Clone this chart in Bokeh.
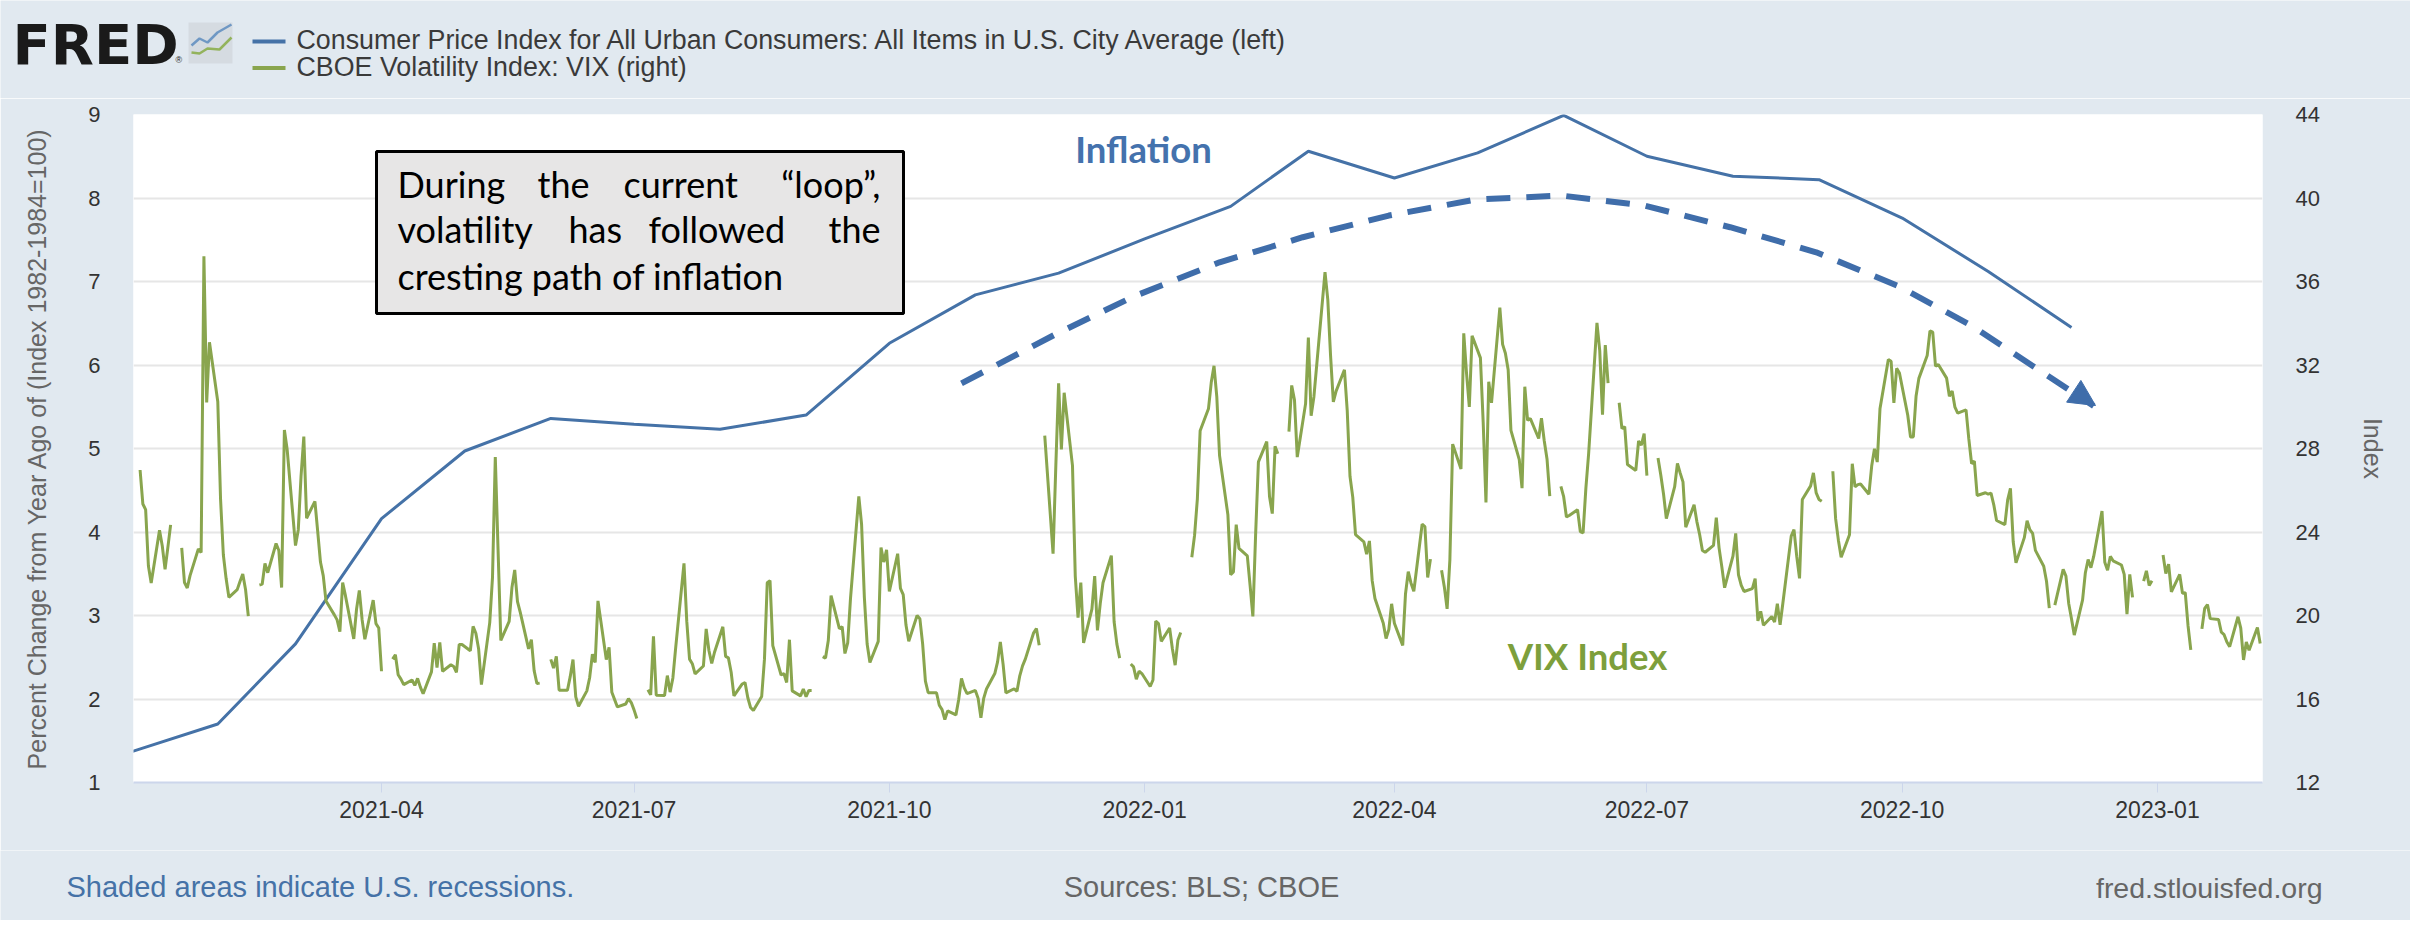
import numpy as np
import pandas as pd
from bokeh.embed import file_html
from bokeh.models import (Arrow, BoxAnnotation, DatetimeTickFormatter, FixedTicker,
                          Label, LinearAxis, NormalHead, Range1d)
from bokeh.plotting import figure
from bokeh.resources import INLINE

# ---- data ----
cpi_dates = pd.date_range("2021-01-01", "2022-12-01", freq="MS")
cpi_yoy = [1.37, 1.70, 2.66, 4.16, 4.97, 5.36, 5.29, 5.23, 5.40, 6.26, 6.84, 7.10,
           7.51, 7.90, 8.56, 8.24, 8.54, 8.99, 8.50, 8.26, 8.22, 7.76, 7.12, 6.45]

# VIX daily closes, one row per month, None = market holiday (line breaks there)
vix_2021 = [
    [None, 26.97, 25.34, 25.07, 22.37, 21.56, 24.08, 23.33, 22.21, 23.25, 24.34, None, 23.24, 21.58, 21.32, 21.91, 23.19, 23.02, 37.21, 30.21, 33.09],
    [30.24, 25.56, 22.91, 21.77, 20.87, 21.24, 21.63, 21.99, 21.25, 19.97, None, 21.46, 21.50, 22.49, 22.05, 23.45, 23.11, 21.34, 28.89, 27.95],
    [23.35, 24.10, 26.67, 28.57, 24.66, 25.47, 24.03, 22.56, 21.91, 20.69, 20.03, 19.79, 19.23, 21.58, 20.95, 18.88, 20.30, 21.20, 19.81, 18.86, 20.74, 19.61, 19.40],
    [17.33, None, 17.91, 18.12, 17.16, 16.95, 16.69, 16.91, 16.65, 16.99, 16.57, 16.25, 17.30, 18.68, 17.50, 18.71, 17.33, 17.64, 17.56, 17.28, 18.61, 18.61],
    [18.31, 19.48, 19.15, 18.39, 16.69, 19.66, 21.84, 27.59, 23.13, 18.81, 19.72, 21.34, 22.18, 20.67, 20.15, 18.40, 18.84, 17.36, 16.74, 16.76, None],
    [17.90, 17.48, 18.04, 16.42, 16.42, 17.07, 17.89, 16.10, 15.65, 16.39, 17.02, 18.15, 17.75, 20.70, 17.89, 18.48, 16.32, 15.97, 15.62, 15.76, 16.02, 15.83],
    [15.48, 15.07, None, 16.44, 16.20, 19.00, 16.18, 16.17, 17.12, 16.33, 17.01, 18.45, 22.50, 19.73, 17.91, 17.69, 17.20, 17.58, 19.36, 18.31, 17.70, 18.24],
    [19.46, 18.04, 17.97, 17.28, 16.15, 16.72, 16.79, 16.06, 15.59, 15.45, 16.12, 17.91, 21.57, 21.67, 18.56, 17.15, 17.22, 16.79, 18.84, 16.39, 16.15, 16.48],
    [16.11, 16.41, 16.41, None, 18.03, 17.96, 18.80, 20.95, 19.37, 19.46, 18.18, 18.69, 20.81, 25.71, 24.36, 20.87, 18.63, 17.75, 18.76, 23.25, 22.56, 23.14],
    [21.15, 22.96, 21.30, 21.00, 19.54, 18.77, 20.00, 19.85, 18.64, 16.86, 16.30, 16.30, 15.70, 15.49, 15.01, 15.43, 15.24, 15.98, 16.98, 16.53, 16.26],
    [16.41, 16.03, 15.10, 16.03, 16.48, 17.22, 17.78, 18.73, 17.66, 16.29, 16.49, 16.37, 17.11, 17.59, 17.91, 19.17, 19.38, 18.58, None, 28.62, 22.96, 27.19],
    [31.12, 27.95, 30.67, 27.18, 21.89, 19.90, 21.58, 18.69, 20.31, 21.89, 19.29, 20.57, 21.57, 22.87, 19.70, 18.63, 17.96, None, 17.68, 17.54, 16.95, 17.33, 17.22],
]
vix_2022 = [
    [16.60, 16.91, 19.73, 19.61, 18.76, 19.40, 18.41, 17.62, 18.83, 19.19, None, 22.79, 23.85, 25.59, 28.85, 29.90, 31.16, 31.96, 30.49, 27.66, 24.83],
    [21.96, 22.09, 24.35, 23.22, 22.86, 21.44, 19.96, 23.91, 27.36, 28.33, 25.70, 24.88, 28.11, 27.75, None, 28.81, 31.02, 30.32, 27.59, 30.15],
    [33.32, 29.57, 30.48, 31.98, 36.45, 35.13, 32.45, 30.23, 30.75, 31.77, 29.83, 26.67, 25.67, 23.87, 23.53, 22.94, 23.57, 21.67, 20.81, 19.63, 18.90, 19.33, 20.56],
    [19.63, 18.57, 21.03, 22.10, 21.55, 21.16, 24.37, 24.26, 21.82, 22.70, None, 22.17, 21.37, 20.32, 22.68, 28.21, 27.02, 33.52, 31.60, 29.99, 33.40],
    [32.34, 29.25, 25.42, 31.20, 30.19, 34.75, 32.99, 32.56, 31.77, 28.87, 27.47, 26.10, 30.96, 29.35, 29.43, 28.48, 29.45, 28.37, 27.50, 25.72, None, 26.19],
    [25.69, 24.72, 24.79, 25.07, 24.02, 23.96, 26.09, 27.75, 34.02, 32.69, 29.62, 32.95, 31.13, None, 30.19, 28.95, 29.05, 27.23, 26.95, 28.36, 28.16, 28.71],
    [26.70, None, 27.54, 26.73, 25.81, 24.64, 26.17, 27.29, 26.82, 26.40, 24.23, 25.30, 24.50, 23.88, 23.11, 23.03, 23.36, 24.69, 23.24, 22.33, 21.33],
    [22.84, 23.93, 21.95, 21.44, 21.15, 21.29, 21.77, 19.74, 20.20, 19.53, 19.95, 19.69, 20.56, 19.56, 20.60, 23.80, 24.11, 22.82, 21.78, 25.56, 26.21, 26.83, 25.87],
    [25.56, 25.47, None, 26.91, 24.64, 23.61, 22.79, 23.87, 27.27, 26.16, 26.27, 26.30, 25.81, 27.16, 27.99, 27.35, 29.92, 32.26, 32.18, 30.18, 31.84, 31.62],
    [29.59, 28.55, 28.55, 30.52, 31.36, 32.45, 33.63, 33.57, 31.94, 32.02, 31.37, 30.50, 30.76, 29.98, 29.69, 29.85, 28.46, 27.28, 27.39, 25.75, 25.88],
    [25.81, 25.86, 25.30, 24.55, 24.35, 25.54, 26.09, 23.53, 22.52, 23.73, 24.54, 24.11, 23.93, 23.12, 22.36, 21.64, 20.35, None, 20.50, 22.21, 21.89, 20.58],
    [19.84, 19.06, 20.75, 22.05, 22.68, 22.29, 22.83, 25.00, 22.55, 22.17, 22.83, 22.62, 22.42, 21.97, 20.07, 21.97, 20.87, None, 21.65, 22.14, 21.44, 21.67],
]
vix_2023 = [
    [None, 22.90, 22.01, 22.46, 21.13, 21.97, 21.07, 21.09, 19.51, 18.35, None, 19.36, 20.34, 20.52, 19.85, 19.81, 19.20, 19.08, 18.73, 18.51, 19.94, 19.40],
    [17.87, 18.73, 18.33, 19.43, 18.66],
]

# the hand-drawn dashed "crest" arrow, in left-axis units
arc_dates = ["2021-10-27", "2021-11-30", "2021-12-28", "2022-01-28", "2022-02-27", "2022-03-30",
             "2022-04-30", "2022-05-31", "2022-06-30", "2022-07-31", "2022-08-31", "2022-09-30",
             "2022-10-26", "2022-11-22", "2022-12-09"]
arc_levels = [5.78, 6.37, 6.82, 7.23, 7.53, 7.79, 7.98, 8.03, 7.91, 7.65, 7.35, 6.94, 6.47, 5.88, 5.51]

tick_dates = ["2021-04-01", "2021-07-01", "2021-10-01", "2022-01-01",
              "2022-04-01", "2022-07-01", "2022-10-01", "2023-01-01"]
left_ticks = [1, 2, 3, 4, 5, 6, 7, 8, 9]
right_ticks = [12, 16, 20, 24, 28, 32, 36, 40, 44]

legend_labels = ["Consumer Price Index for All Urban Consumers: All Items in U.S. City Average (left)",
                 "CBOE Volatility Index: VIX (right)"]


def ms(s):
    return pd.Timestamp(s).value / 1e6


vix_dates, vix_values = [], []
for year, months in ((2021, vix_2021), (2022, vix_2022), (2023, vix_2023)):
    for m, vals in enumerate(months):
        vix_dates.extend(pd.bdate_range(f"{year}-{m + 1:02d}-01", periods=len(vals)))
        vix_values.extend(np.nan if v is None else v for v in vals)

X0, X1 = ms("2021-01-01 15:00"), ms("2023-02-07 20:00")
FL, FR, FT, FB = 133, 2262, 114, 782   # frame edges on the screenshot
HDR_BOTTOM, FTR_TOP, BOTTOM = 98, 850, 920
W = 2410


def at_x(px):
    return X0 + (px - FL) * (X1 - X0) / (FR - FL)


def at_y(py):
    return 9 - (py - FT) * 8 / (FB - FT)


def same(v):
    return v


BG = "#e1e9f0"
BLUE = "#4572a7"
GREEN = "#89a54e"

# distance from the middle of the text box down to the baseline, per em
MID_TO_BASE = {"Lato": 0.37, "Liberation Sans": 0.346, "DejaVu Sans": 0.346}


def label(fig, text, px, py, size, color, font="Liberation Sans", align="left",
          style="normal", fx=same, fy=same):
    # px/py: anchor and baseline on the screenshot; Bokeh gets the middle of the line
    mid = py - MID_TO_BASE[font] * size
    fig.add_layout(Label(x=fx(px), y=fy(mid), text=text, text_font=font,
                         text_font_size=f"{size}px", text_color=color, text_align=align,
                         text_font_style=style, text_baseline="middle"))


def strip(top, bottom):
    # plain panel whose data units are screenshot pixels (y pointing down)
    f = figure(width=W, height=bottom - top, x_range=Range1d(0, W), y_range=Range1d(bottom, top),
               x_axis_location=None, y_axis_location=None, output_backend="svg",
               toolbar_location=None, min_border=0, background_fill_color=BG,
               border_fill_color=BG, outline_line_color=None)
    f.grid.visible = False
    return f


# ---------- main chart ----------
p = figure(width=W, height=FTR_TOP - HDR_BOTTOM, x_axis_type="datetime",
           x_range=Range1d(X0, X1), y_range=Range1d(1, 9),
           output_backend="svg", toolbar_location=None,
           min_border_left=FL, min_border_right=W - FR,
           min_border_top=FT - HDR_BOTTOM, min_border_bottom=FTR_TOP - FB,
           background_fill_color="white", border_fill_color=BG, outline_line_color=None)
p.extra_y_ranges = {"vix": Range1d(12, 44)}

xa = p.xaxis[0]
xa.ticker = FixedTicker(ticks=[ms(d) for d in tick_dates])
xa.formatter = DatetimeTickFormatter(days="%Y-%m", months="%Y-%m", years="%Y-%m")
xa.axis_line_color = "#ccd6eb"
xa.axis_line_width = 2
xa.major_tick_line_color = "#ccd6eb"
xa.major_tick_out = 10
xa.major_tick_in = 0
xa.minor_tick_line_color = None
xa.major_label_standoff = 8
xa.major_label_text_font = "Liberation Sans"
xa.major_label_text_font_size = "23px"
xa.major_label_text_color = "#333333"

ya = p.yaxis[0]
ya.ticker = FixedTicker(ticks=left_ticks)
ya.axis_line_color = None
ya.major_tick_line_color = None
ya.major_tick_out = 0
ya.minor_tick_line_color = None
ya.major_label_standoff = 33
ya.major_label_text_font = "Liberation Sans"
ya.major_label_text_font_size = "22px"
ya.major_label_text_color = "#333333"
ya.axis_label = "Percent Change from Year Ago of (Index 1982-1984=100)"
ya.axis_label_text_font = "Liberation Sans"
ya.axis_label_text_font_style = "normal"
ya.axis_label_text_font_size = "25px"
ya.axis_label_text_color = "#666666"
ya.axis_label_standoff = 34

ra = LinearAxis(y_range_name="vix", ticker=FixedTicker(ticks=right_ticks), axis_label="Index")
ra.axis_line_color = None
ra.major_tick_line_color = None
ra.major_tick_out = 0
ra.minor_tick_line_color = None
ra.major_label_standoff = 33
ra.major_label_text_font = "Liberation Sans"
ra.major_label_text_font_size = "22px"
ra.major_label_text_color = "#333333"
ra.axis_label_text_font = "Liberation Sans"
ra.axis_label_text_font_style = "normal"
ra.axis_label_text_font_size = "25px"
ra.axis_label_text_color = "#666666"
ra.axis_label_standoff = 36
p.add_layout(ra, "right")

p.xgrid.visible = False
p.ygrid.ticker = FixedTicker(ticks=left_ticks)
p.ygrid.grid_line_color = "#e6e6e6"
p.ygrid.grid_line_width = 2

p.line(cpi_dates, cpi_yoy, line_color=BLUE, line_width=3)
p.line(vix_dates, vix_values, line_color=GREEN, line_width=3, y_range_name="vix")

# dashed arrow
p.line(pd.to_datetime(arc_dates), arc_levels, line_color="#3f6daa", line_width=6, line_dash="24 16")
p.add_layout(Arrow(end=NormalHead(size=26, fill_color="#3f6daa", line_color="#3f6daa"),
                   x_start=at_x(2066), y_start=at_y(386), x_end=at_x(2095), y_end=at_y(405),
                   line_alpha=0))

# comment box
p.add_layout(BoxAnnotation(left=at_x(376), right=at_x(903), top=at_y(151), bottom=at_y(313),
                           fill_color="#e7e6e6", fill_alpha=1, line_color="black",
                           line_width=3, line_alpha=1))
for word, px, py, al in [("During", 397, 197, "left"), ("the", 537, 197, "left"),
                         ("current", 623, 197, "left"), ("\u201cloop\u201d,", 880, 197, "right"),
                         ("volatility", 397, 242, "left"), ("has", 568, 242, "left"),
                         ("followed", 648, 242, "left"), ("the", 880, 242, "right"),
                         ("cresting path of inflation", 397, 289, "left")]:
    label(p, word, px, py, 36, "black", font="Lato", align=al, fx=at_x, fy=at_y)

label(p, "Inflation", 1143, 162, 36.5, "#4472ad", font="Lato", align="center", style="bold",
      fx=at_x, fy=at_y)
label(p, "VIX Index", 1587, 669, 36.5, "#7d9f3c", font="Lato", align="center", style="bold",
      fx=at_x, fy=at_y)

# ---------- header: logo + legend ----------
hdr = strip(0, HDR_BOTTOM)
label(hdr, "FRED", 12, 63, 56, "#1a1a1a", font="DejaVu Sans", style="bold")
label(hdr, "\u00ae", 175, 63, 9, "#1a1a1a")
hdr.quad(left=[188], right=[232], top=[22], bottom=[63], fill_color="#d5dbe1", line_color=None)
hdr.line([191, 199, 207, 217, 231], [45, 38, 42, 32, 24], line_color="#6f98c4", line_width=2.5)
hdr.line([191, 199, 207, 219, 231], [52, 53, 48, 49, 37], line_color="#93b35c", line_width=2.5)
for i, (txt, col) in enumerate(zip(legend_labels, [BLUE, GREEN])):
    hdr.line([252, 285], [41 + 26.6 * i] * 2, line_color=col, line_width=4)
    label(hdr, txt, 296, 48.3 + 27.4 * i, 26.8, "#3a3a3a")

# ---------- footer ----------
ftr = strip(FTR_TOP, BOTTOM)
label(ftr, "Shaded areas indicate U.S. recessions.", 66, 897, 29, BLUE)
label(ftr, "Sources: BLS; CBOE", 1201, 897, 29, "#666666", align="center")
label(ftr, "fred.stlouisfed.org", 2322, 897, 28.5, "#666666", align="right")

# three separate roots so Bokeh does not line their frames up with each other
open("out.html", "w").write(file_html([hdr, p, ftr], INLINE))
